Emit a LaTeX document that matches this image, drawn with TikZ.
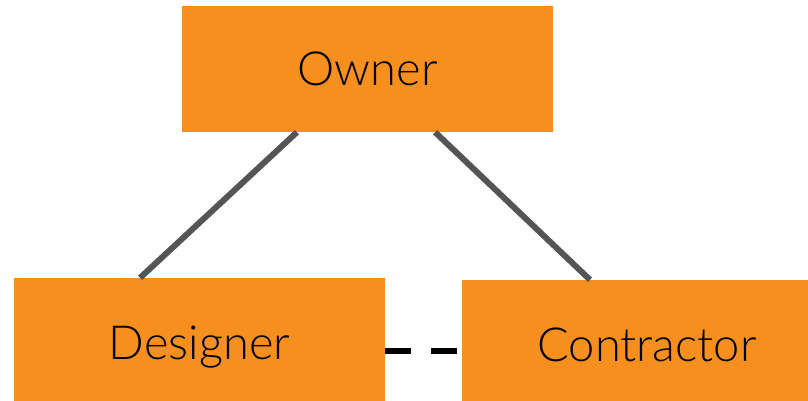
\documentclass[tikz,border=0pt]{standalone}
\usepackage{fontspec}
\IfFontExistsTF{Lato Light}{\setmainfont{Lato Light}}{\setmainfont{Liberation Sans}}
\usetikzlibrary{calc}
\definecolor{boxorange}{HTML}{F78F1E}
\definecolor{linegray}{HTML}{555555}
\tikzset{
  rolebox/.style={fill=boxorange, draw=none, inner sep=0pt, anchor=center,
    font=\fontsize{47}{52}\selectfont, text=black, text depth=0pt},
  tie/.style={draw=linegray, line width=6pt},
  informal/.style={draw=black, line width=6pt, dash pattern=on 26pt off 20pt}
}
\begin{document}
\begin{tikzpicture}[x=1pt,y=-1pt]
\useasboundingbox (0,0) rectangle (808,401);
\node[rolebox, minimum width=371pt, minimum height=126pt, text height=34pt] (owner) at (367.5,69) {Owner};
\node[rolebox, minimum width=371pt, minimum height=123pt, text height=39pt] (designer) at (199.5,339.5) {Designer};
\node[rolebox, minimum width=346pt, minimum height=121pt, text height=41pt] (contractor) at (635,340.5) {\hspace*{24pt}Contractor};
\draw[tie] ($(owner.south west)!0.31!(owner.south east)$) -- ($(designer.north west)!0.34!(designer.north east)$);
\draw[tie] ($(owner.south west)!0.682!(owner.south east)$) -- ($(contractor.north west)!0.37!(contractor.north east)$);
\coordinate (dashA) at ([yshift=-11.5pt]designer.east);
\draw[informal] (dashA) -- (dashA -| contractor.west);
\end{tikzpicture}
\end{document}
